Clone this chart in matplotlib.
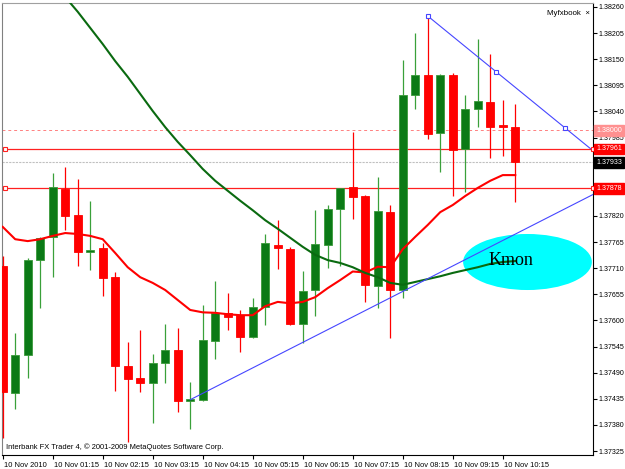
import matplotlib
matplotlib.use('Agg')
import matplotlib.pyplot as plt
import matplotlib.transforms as mtransforms
from matplotlib.patches import Ellipse

# EURUSD M15 bars, 10 Nov 2010 00:15 .. 10:30
opens = [1.37715, 1.37448, 1.37527, 1.37727, 1.37776, 1.37877, 1.37822, 1.37744, 1.37753, 1.37691,
         1.37504, 1.37478, 1.37468, 1.37510, 1.37538, 1.37431, 1.37432, 1.37557, 1.37615, 1.37611,
         1.37565, 1.37628, 1.37759, 1.37751, 1.37592, 1.37663, 1.37759, 1.37835, 1.37880, 1.37861,
         1.37673, 1.37828, 1.37664, 1.38075, 1.38117, 1.37994, 1.38117, 1.37962, 1.38046, 1.38059,
         1.38012, 1.38008]
highs = [1.37736, 1.37574, 1.37731, 1.37776, 1.37911, 1.37924, 1.37898, 1.37852, 1.37763, 1.37702,
         1.37555, 1.37580, 1.37529, 1.37592, 1.37584, 1.37470, 1.37633, 1.37684, 1.37658, 1.37622,
         1.37648, 1.37783, 1.37811, 1.37754, 1.37704, 1.37832, 1.37843, 1.37879, 1.37997, 1.37864,
         1.37903, 1.37842, 1.38148, 1.38206, 1.38241, 1.38118, 1.38120, 1.38075, 1.38192, 1.38160,
         1.38064, 1.38055]
lows = [1.37352, 1.37413, 1.37479, 1.37627, 1.37691, 1.37790, 1.37715, 1.37706, 1.37652, 1.37451,
        1.37345, 1.37449, 1.37385, 1.37468, 1.37408, 1.37371, 1.37431, 1.37518, 1.37580, 1.37534,
        1.37564, 1.37590, 1.37708, 1.37590, 1.37552, 1.37609, 1.37710, 1.37715, 1.37813, 1.37639,
        1.37626, 1.37562, 1.37647, 1.38045, 1.37981, 1.37913, 1.37861, 1.37871, 1.38008, 1.37943,
        1.37947, 1.37850]
closes = [1.37449, 1.37527, 1.37727, 1.37774, 1.37880, 1.37820, 1.37744, 1.37749, 1.37689, 1.37503,
          1.37477, 1.37468, 1.37510, 1.37538, 1.37431, 1.37435, 1.37559, 1.37615, 1.37608, 1.37565,
          1.37628, 1.37764, 1.37752, 1.37592, 1.37662, 1.37760, 1.37834, 1.37878, 1.37859, 1.37675,
          1.37830, 1.37664, 1.38075, 1.38117, 1.37993, 1.38117, 1.37959, 1.38046, 1.38061, 1.38008,
          1.38007, 1.37933]

# fast moving average (red), one value per bar
ma_fast = [1.37797, 1.37771, 1.37767, 1.37771, 1.37778, 1.37784, 1.37782, 1.37778, 1.37771, 1.37742,
           1.37712, 1.37691, 1.37679, 1.37664, 1.37643, 1.37622, 1.37617, 1.37616, 1.37613, 1.37611,
           1.37611, 1.37630, 1.37639, 1.37636, 1.37639, 1.37649, 1.37668, 1.37685, 1.37703, 1.37701,
           1.37713, 1.37712, 1.37750, 1.37776, 1.37801, 1.37828, 1.37843, 1.37862, 1.37879, 1.37894,
           1.37906, 1.37906]

# slow moving average (green), starts at bar 5 (above the visible range there)
ma_slow_start = 5
ma_slow = [1.38281, 1.38250, 1.38216, 1.38182, 1.38146, 1.38113, 1.38077, 1.38041, 1.38007, 1.37976,
           1.37948, 1.37919, 1.37894, 1.37873, 1.37852, 1.37832, 1.37811, 1.37793, 1.37774, 1.37755,
           1.37738, 1.37727, 1.37721, 1.37712, 1.37700, 1.37691, 1.37679, 1.37675, 1.37681, 1.37687,
           1.37693, 1.37700, 1.37706, 1.37712, 1.37719, 1.37723, 1.37725]

# trend lines: (bar, price) anchor pairs, drawn as rays to the right
trend_up = [(15, 1.37433), (32, 1.37661)]
trend_down = [(34, 1.38241), (45, 1.38005)]

# horizontal levels
level_hi = 1.37961
level_lo = 1.37878
level_dash = 1.38000
bid = 1.37933

time_ticks = [0, 4, 8, 12, 16, 20, 24, 28, 32, 36, 40]
time_labels = ['10 Nov 2010', '10 Nov 01:15', '10 Nov 02:15', '10 Nov 03:15', '10 Nov 04:15',
               '10 Nov 05:15', '10 Nov 06:15', '10 Nov 07:15', '10 Nov 08:15', '10 Nov 09:15',
               '10 Nov 10:15']
price_ticks = [1.38260, 1.38205, 1.38150, 1.38095, 1.38040, 1.37985, 1.37930, 1.37875, 1.37820,
               1.37765, 1.37710, 1.37655, 1.37600, 1.37545, 1.37490, 1.37435, 1.37380, 1.37325]
# these two sit under the price boxes
hidden_ticks = [1.37930, 1.37875]

UP_BODY = '#0b7a16'
UP_EDGE = '#3a9a3a'
UP_WICK = '#3aa03a'
DN = '#ff0000'
FONT = 'Liberation Sans'
FS = 5.4
FS_Y = 5.1

fig = plt.figure(figsize=(6.25, 4.69), dpi=100)
ax = fig.add_axes([2 / 625, 1 - 455 / 469, 591 / 625, 452 / 469])
ax.set_xlim(-0.056, 47.22)
ax.set_ylim(1.373166, 1.382684)

n = len(opens)
xs = list(range(n))

# candles
for i in xs:
    up = closes[i] >= opens[i]
    ax.vlines(i, lows[i], highs[i], color=UP_WICK if up else DN, lw=0.9, zorder=3)
    lo, hi = min(opens[i], closes[i]), max(opens[i], closes[i])
    h = max(hi - lo, 0.000035)
    if up:
        ax.bar(i, h, bottom=lo, width=0.64, color=UP_BODY, edgecolor=UP_EDGE, lw=0.6, zorder=4)
    else:
        ax.bar(i, h, bottom=lo, width=0.64, color=DN, edgecolor=DN, lw=0.6, zorder=4)

# moving averages
ax.plot(xs, ma_fast, color='#ff0000', lw=1.5, zorder=5)
ax.plot(range(ma_slow_start, ma_slow_start + len(ma_slow)), ma_slow, color='#0a6a10', lw=1.5, zorder=5)

# Kmon ellipse (background object)
ax.add_patch(Ellipse((41.98, 1.37723), 10.3, 0.00118, facecolor='#00ffff', edgecolor='none', zorder=1))
ax.text(38.9, 1.37727, 'Kmon', family='Liberation Serif', fontsize=13, va='center', ha='left', zorder=6)

# trend lines
for (x0, y0), (x1, y1) in (trend_up, trend_down):
    slope = (y1 - y0) / (x1 - x0)
    ax.plot([x0, 48], [y0, y0 + slope * (48 - x0)], color='#4646ff', lw=0.8, zorder=6)
ax.plot([trend_down[0][0], (trend_down[0][0] + trend_down[1][0]) / 2, trend_down[1][0]],
        [trend_down[0][1], (trend_down[0][1] + trend_down[1][1]) / 2, trend_down[1][1]],
        ls='none', marker='s', ms=3.5, mfc='white', mec='#4646ff', mew=0.8, zorder=7)

# horizontal levels
ax.axhline(level_dash, color='#ff8080', lw=0.7, ls=(0, (3, 3)), zorder=2)
ax.axhline(bid, color='#c0c0c0', lw=0.8, ls=(0, (2, 1)), zorder=2)
for lvl in (level_hi, level_lo):
    ax.axhline(lvl, color='#ff2020', lw=0.9, zorder=2)
    ax.plot([0.15, 47.2], [lvl, lvl], ls='none', marker='s', ms=3.5, mfc='white', mec='#ff2020',
            mew=0.8, zorder=7, clip_on=False)

# axes styling like the terminal
ax.yaxis.tick_right()
ax.set_yticks(price_ticks)
ax.set_yticklabels(['' if p in hidden_ticks else '%.5f' % p for p in price_ticks],
                   fontsize=FS_Y, family=FONT)
ax.tick_params(axis='y', length=3, pad=1, colors='black')
ax.set_xticks(time_ticks)
ax.set_xticklabels(time_labels, fontsize=FS, family=FONT, ha='left')
ax.tick_params(axis='x', length=3, pad=2)
offset = mtransforms.ScaledTranslation(1 / 100, 0, fig.dpi_scale_trans)
for lab in ax.get_xticklabels():
    lab.set_transform(lab.get_transform() + offset)
ax.spines['left'].set_color('#808080')
ax.spines['top'].set_color('#a0a0a0')
ax.spines['right'].set_color('black')
ax.spines['bottom'].set_color('black')

# price boxes on the axis
trans = mtransforms.blended_transform_factory(ax.transAxes, ax.transData)
for val, bg, fg in ((level_dash, '#ff9090', 'white'), (level_hi, '#ff0000', 'white'),
                    (bid, '#000000', 'white'), (level_lo, '#ff0000', 'white')):
    ax.text(1.0055, val, '%.5f' % val, transform=trans, fontsize=FS_Y, family=FONT, color=fg,
            va='center', ha='left', zorder=10, clip_on=False,
            bbox=dict(boxstyle='square,pad=0.25', fc=bg, ec=bg))

ax.text(0.995, 0.985, 'Myfxbook  \u00d7', transform=ax.transAxes, fontsize=FS + 0.3, family=FONT,
        ha='right', va='top')
ax.text(0.006, 0.008, 'Interbank FX Trader 4, \u00a9 2001-2009 MetaQuotes Software Corp.',
        transform=ax.transAxes, fontsize=FS, family=FONT, ha='left', va='bottom')

fig.savefig('out.png', dpi=100)
